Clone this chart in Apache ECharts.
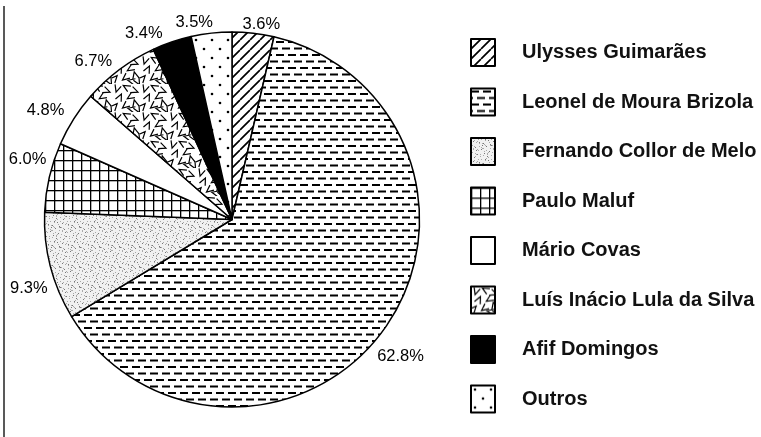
<!DOCTYPE html>
<html><head><meta charset="utf-8">
<script src="https://cdn.jsdelivr.net/npm/echarts@6/dist/echarts.min.js"></script>
<style>html,body{margin:0;padding:0;background:#fff}#chart{width:761px;height:437px}</style>
</head><body><div id="chart"></div>
<script>
// Candidates and vote shares (%)
const candidates = ['Ulysses Guimarães', 'Leonel de Moura Brizola', 'Fernando Collor de Melo', 'Paulo Maluf', 'Mário Covas', 'Luís Inácio Lula da Silva', 'Afif Domingos', 'Outros'];
const shares = [3.6, 62.8, 9.3, 6.0, 4.8, 6.7, 3.4, 3.5];

// Small nudges for the percentage labels, in candidate order
const labelNudge = [[-16, -5], [-15, 25], [6, 21], [6, -17], [-1, -6], [0, -5], [-3, -5], [7, -7]];

// ---- monochrome fill textures ----
function tile(w, h, draw) {
  const c = document.createElement('canvas');
  c.width = w; c.height = h;
  const g = c.getContext('2d');
  g.fillStyle = '#fff'; g.fillRect(0, 0, w, h);
  g.strokeStyle = '#000'; g.fillStyle = '#000';
  draw(g, w, h);
  return { image: c, repeat: 'repeat' };
}

const hatch = tile(10, 10, (g) => {
  g.lineWidth = 1.7; g.beginPath();
  for (let k = -1; k <= 1; k++) { g.moveTo(k * 10, 10); g.lineTo(k * 10 + 10, 0); }
  g.stroke();
});
const dashes = tile(12, 13, (g) => {
  g.fillRect(0, 2, 8, 2);
  g.fillRect(6, 8.5, 8, 2); g.fillRect(-6, 8.5, 8, 2);
});
const speckOffsets = [[2,3],[7,1],[12,5],[17,2],[4,9],[10,11],[15,8],[1,14],[6,16],[13,15],[18,13],[9,18],[3,19],[16,18],[11,7],[19,6],[8,4],[14,1],[5,12],[0,7]];
const stipple = tile(20, 20, (g) => {
  g.fillStyle = '#f1f1f1'; g.fillRect(0, 0, 20, 20);
  g.fillStyle = '#777';
  speckOffsets.forEach(([x, y]) => g.fillRect(x, y, 1, 1));
  g.fillStyle = '#aaa';
  speckOffsets.forEach(([x, y]) => g.fillRect((x + 5) % 20, (y + 9) % 20, 1, 1));
  speckOffsets.forEach(([x, y]) => g.fillRect((x + 11) % 20, (y + 3) % 20, 1, 1));
});
const grid = tile(9, 10, (g) => {
  g.fillRect(0, 0, 9, 1.3); g.fillRect(0, 0, 1.3, 10);
});
const chevronMarks = [[5,5,0.3],[14,3,2.1],[23,7,-1.2],[8,13,3.6],[18,13,1.0],[3,22,-2.4],[13,22,0.9],[23,19,2.9],[26,26,-0.5],[19,25,1.8]];
const chevrons = tile(28, 28, (g) => {
  g.lineWidth = 1.2;
  chevronMarks.forEach(([x, y, a]) => {
    g.save(); g.translate(x, y); g.rotate(a);
    g.beginPath(); g.moveTo(-3.2, -3.8); g.lineTo(0, 3.2); g.lineTo(3.2, -3.8); g.stroke();
    g.restore();
  });
});
const dots = tile(16, 18, (g) => {
  g.beginPath(); g.arc(4, 4, 1.3, 0, Math.PI * 2); g.fill();
  g.beginPath(); g.arc(12, 13, 1.3, 0, Math.PI * 2); g.fill();
});
const fills = [hatch, dashes, stipple, grid, '#ffffff', chevrons, '#000000', dots];

const FONT = 'Liberation Sans, Arial, sans-serif';
const chart = echarts.init(document.getElementById('chart'));
chart.setOption({
  animation: false,
  backgroundColor: '#fff',
  legend: {
    orient: 'vertical',
    left: 470, top: 38,
    padding: 0,
    itemWidth: 24, itemHeight: 27, itemGap: 20.5,
    icon: 'rect',
    selectedMode: false,
    data: candidates,
    textStyle: { fontFamily: FONT, fontSize: 20, fontWeight: 'bold', color: '#111', padding: [0, 0, 0, 22] }
  },
  graphic: [{
    type: 'line', shape: { x1: 4, y1: 6, x2: 4, y2: 437 },
    style: { stroke: '#222', lineWidth: 1.5 }
  }],
  series: [{
    type: 'pie',
    center: [232, 219.5],
    radius: 187.5,
    startAngle: 90,
    clockwise: true,
    avoidLabelOverlap: false,
    emphasis: { disabled: true },
    itemStyle: { borderColor: '#000', borderWidth: 1.5 },
    label: {
      show: true, position: 'outside', color: '#000',
      fontFamily: FONT, fontSize: 16.5,
      formatter: (p) => p.value.toFixed(1) + '%'
    },
    labelLine: { show: false, length: 4, length2: 0 },
    labelLayout: (p) => ({ dx: labelNudge[p.dataIndex][0], dy: labelNudge[p.dataIndex][1] }),
    data: candidates.map((name, i) => ({ name, value: shares[i], itemStyle: { color: fills[i] } }))
  }]
});
</script></body></html>
